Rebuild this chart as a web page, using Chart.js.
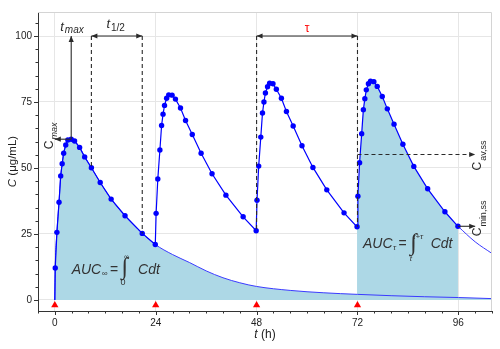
<!DOCTYPE html>
<html>
<head>
<meta charset="utf-8">
<script src="https://cdn.jsdelivr.net/npm/chart.js@4.4.1/dist/chart.umd.min.js"></script>
<style>
  html, body { margin: 0; padding: 0; background: #fff; }
  #wrap { width: 500px; height: 349px; }
</style>
</head>
<body>
<div id="wrap"><canvas id="pkChart" width="500" height="349"></canvas></div>
<script>
// dosing times (h) and sampling times after each dose (h)
var doseTimes = [0, 24, 48, 72];
var sampleOffsets = [0.1, 0.5, 1, 1.4, 1.75, 2.1, 2.6, 3.1, 3.9, 4.7, 5.9, 7.1, 8.7, 10.8, 13.4, 16.7, 20.8, 23.9];

// measured plasma concentration (µg/mL) after each dose
var dose1 = [12.1, 25.6, 37.0, 47.0, 51.6, 55.6, 58.7, 60.6, 60.9, 60.2, 57.8, 54.2, 50.1, 44.5, 38.2, 31.9, 25.2, 21.0];
var dose2 = [32.8, 45.8, 56.8, 66.1, 70.4, 73.7, 76.4, 77.7, 77.6, 76.1, 72.7, 68.0, 62.7, 55.6, 47.8, 39.7, 31.5, 26.2];
var dose3 = [37.8, 50.7, 61.7, 70.8, 75.0, 78.4, 80.8, 82.1, 81.9, 79.8, 76.4, 71.4, 65.9, 58.4, 50.2, 41.7, 33.0, 27.7];
var dose4 = [39.3, 52.0, 63.0, 72.1, 76.2, 79.6, 81.9, 82.9, 82.7, 80.9, 77.1, 72.4, 66.6, 59.0, 50.6, 42.1, 33.4, 27.9];
var doses = [dose1, dose2, dose3, dose4];

// single dose, elimination after 24 h
var singleTailTimes = [24, 28, 32, 36, 40, 44, 48, 56, 64, 72, 80, 88, 96, 104];
var singleTailConc = [21.0, 17.2, 14.2, 11.0, 8.4, 6.5, 5.1, 3.6, 2.7, 2.1, 1.6, 1.2, 0.9, 0.5];

// last dose, elimination after 96 h
var lastTailTimes = [95.9, 100, 104];
var lastTailConc = [27.9, 22.0, 17.6];

var xTicks = [0, 24, 48, 72, 96];
var yTicks = [0, 25, 50, 75, 100];
var xMinorStep = 4, yMinorStep = 5;

var FONT = '"Liberation Sans", Arial, sans-serif';
var INK = '#2a2a2a';

function pts(xs, ys) {
  return xs.map(function (x, i) { return { x: x, y: ys[i] }; });
}

var multiDose = [{ x: 0, y: 0 }];
doses.forEach(function (conc, d) {
  sampleOffsets.forEach(function (o, i) {
    multiDose.push({ x: doseTimes[d] + o, y: conc[i] });
  });
});

var singleDose = [{ x: 0, y: 0 }].concat(pts(sampleOffsets, dose1)).concat(pts(singleTailTimes, singleTailConc).slice(1));
var steadyInterval = [{ x: doseTimes[3] - 0.1, y: dose3[dose3.length - 1] }].concat(
  sampleOffsets.map(function (o, i) { return { x: doseTimes[3] + o, y: dose4[i] }; }));
var doseMarks = doseTimes.map(function (t) { return { x: t, y: -2 }; });

function arrowHead(ctx, x, y, ang) {
  ctx.save();
  ctx.translate(x, y);
  ctx.rotate(ang);
  ctx.beginPath();
  ctx.moveTo(0, 0);
  ctx.lineTo(-6, -2.6);
  ctx.lineTo(-6, 2.6);
  ctx.closePath();
  ctx.fill();
  ctx.restore();
}

function segment(ctx, x1, y1, x2, y2, dashed, headStart, headEnd) {
  ctx.save();
  ctx.setLineDash(dashed ? [4, 3] : []);
  ctx.beginPath();
  ctx.moveTo(x1, y1);
  ctx.lineTo(x2, y2);
  ctx.stroke();
  ctx.restore();
  var ang = Math.atan2(y2 - y1, x2 - x1);
  if (headEnd) arrowHead(ctx, x2, y2, ang);
  if (headStart) arrowHead(ctx, x1, y1, ang + Math.PI);
}

// draws a run of text pieces, each with its own font and vertical shift
function rich(ctx, parts, x, y) {
  parts.forEach(function (p) {
    ctx.font = p.font;
    x += p.gap || 0;
    ctx.fillText(p.text, x, y + (p.dy || 0));
    x += ctx.measureText(p.text).width;
  });
  return x;
}

function richWidth(ctx, parts) {
  var w = 0;
  parts.forEach(function (p) { ctx.font = p.font; w += (p.gap || 0) + ctx.measureText(p.text).width; });
  return w;
}

function rotatedRich(ctx, parts, x, y) {
  ctx.save();
  ctx.translate(x, y);
  ctx.rotate(-Math.PI / 2);
  rich(ctx, parts, 0, 0);
  ctx.restore();
}

// integral sign sized so its ink runs from top to bottom
function integralSign(ctx, left, top, bottom) {
  var fam = '"Liberation Serif", serif';
  ctx.font = '20px ' + fam;
  var m = ctx.measureText('∫');
  var size = 20 * (bottom - top) / (m.actualBoundingBoxAscent + m.actualBoundingBoxDescent);
  ctx.font = size.toFixed(1) + 'px ' + fam;
  m = ctx.measureText('∫');
  ctx.fillText('∫', left + m.actualBoundingBoxLeft, top + m.actualBoundingBoxAscent);
}

var pkNotes = {
  id: 'pkNotes',
  afterDatasetsDraw: function (chart) {
    var ctx = chart.ctx, xs = chart.scales.x, ys = chart.scales.y;
    var X = function (v) { return xs.getPixelForValue(v); };
    var Y = function (v) { return ys.getPixelForValue(v); };
    var tMax = 3.9, cMax = 60.9;
    ctx.save();
    ctx.strokeStyle = INK;
    ctx.fillStyle = INK;
    ctx.lineWidth = 1.1;
    ctx.textBaseline = 'alphabetic';
    ctx.textAlign = 'left';

    // t max and C max
    segment(ctx, X(tMax), Y(cMax), X(tMax), Y(100), false, false, true);
    segment(ctx, X(tMax), Y(cMax), X(0), Y(cMax), false, false, true);
    rich(ctx, [{ text: 't', font: 'italic 13px ' + FONT }, { text: 'max', font: 'italic 10px ' + FONT, dy: 2, gap: 1 }], X(tMax) - 11, Y(100) - 5);
    rotatedRich(ctx, [{ text: 'C', font: '12px ' + FONT }, { text: 'max', font: 'italic 9px ' + FONT, dy: 4, gap: 1 }], X(tMax) - 18, Y(cMax) + 10);

    // half-life bracket
    var h1 = 8.7, h2 = 20.8;
    segment(ctx, X(h1), Y(100), X(h1), Y(50.1), true);
    segment(ctx, X(h2), Y(100), X(h2), Y(25.2), true);
    segment(ctx, X(h1), Y(100), X(h2), Y(100), false, true, true);
    rich(ctx, [{ text: 't', font: 'italic 13px ' + FONT }, { text: '1/2', font: '10px ' + FONT, dy: 3, gap: 1 }], X(h1) + 15, Y(100) - 8);

    // dosing interval bracket
    segment(ctx, X(48), Y(100), X(48), Y(dose2[dose2.length - 1]), true);
    segment(ctx, X(72), Y(100), X(72), Y(dose3[dose3.length - 1]), true);
    segment(ctx, X(48), Y(100), X(72), Y(100), false, true, true);
    ctx.save();
    ctx.fillStyle = '#ff0000';
    ctx.font = '12px ' + FONT;
    ctx.textAlign = 'center';
    ctx.fillText('τ', (X(48) + X(72)) / 2, Y(100) - 4);
    ctx.restore();

    // steady-state average and minimum
    var cAv = 55.1;
    segment(ctx, X(72), Y(cAv), X(100), Y(cAv), true, false, true);
    segment(ctx, X(95.9), Y(27.9), X(100), Y(27.9), false, false, true);
    rotatedRich(ctx, [{ text: 'C', font: '12px ' + FONT }, { text: 'av,ss', font: '9px ' + FONT, dy: 5, gap: 1 }], X(100) + 6, Y(cAv) + 16);
    rotatedRich(ctx, [{ text: 'C', font: '12px ' + FONT }, { text: 'min,ss', font: '9px ' + FONT, dy: 5, gap: 1 }], X(100) + 6, Y(27.9) + 10);

    // area under the curve formulas
    ctx.fillStyle = '#333';
    var ax = X(4), ay = Y(9.7);
    var ex = rich(ctx, [{ text: 'AUC', font: 'italic 14px ' + FONT }, { text: '∞', font: 'italic 8px ' + FONT, dy: 2, gap: 0.5 }, { text: '=', font: '14px ' + FONT, gap: 2.5 }], ax, ay);
    integralSign(ctx, ex + 1.5, ay - 17, ay + 8);
    ctx.font = '7px ' + FONT;
    ctx.fillText('∞', ex + 6, ay - 15);
    ctx.font = '9px ' + FONT;
    ctx.fillText('0', ex + 2.5, ay + 11);
    rich(ctx, [{ text: 'Cdt', font: 'italic 14px ' + FONT }], ex + 20, ay);

    var bx = X(73.3), by = Y(19.7);
    ex = rich(ctx, [{ text: 'AUC', font: 'italic 14px ' + FONT }, { text: 'τ', font: 'italic 8px ' + FONT, dy: 2, gap: 0.5 }, { text: '=', font: '14px ' + FONT, gap: 2.5 }], bx, by);
    integralSign(ctx, ex + 1.5, by - 15, by + 10);
    ctx.font = 'italic 8px ' + FONT;
    ctx.fillText('t+τ', ex + 6.5, by - 9);
    ctx.fillText('t', ex + 3, by + 13);
    rich(ctx, [{ text: 'Cdt', font: 'italic 14px ' + FONT }], ex + 24, by);

    ctx.restore();
  },
  afterDraw: function (chart) {
    var ctx = chart.ctx, a = chart.chartArea, xs = chart.scales.x, ys = chart.scales.y;
    ctx.save();
    // light frame on the open sides
    ctx.strokeStyle = '#d4d4d4';
    ctx.lineWidth = 1;
    ctx.beginPath();
    ctx.moveTo(a.left, a.top + 0.5);
    ctx.lineTo(a.right - 0.5, a.top + 0.5);
    ctx.lineTo(a.right - 0.5, a.bottom);
    ctx.stroke();

    // major and minor tick marks
    ctx.strokeStyle = '#333';
    ctx.beginPath();
    xs.ticks.forEach(function (tk) {
      var px = Math.round(xs.getPixelForValue(tk.value)) + 0.5;
      var len = xTicks.indexOf(tk.value) >= 0 ? 4 : 2.5;
      ctx.moveTo(px, a.bottom);
      ctx.lineTo(px, a.bottom + len);
    });
    ys.ticks.forEach(function (tk) {
      var py = Math.round(ys.getPixelForValue(tk.value)) + 0.5;
      var len = yTicks.indexOf(tk.value) >= 0 ? 4 : 2.5;
      ctx.moveTo(a.left, py);
      ctx.lineTo(a.left - len, py);
    });
    ctx.stroke();

    // axis titles
    ctx.fillStyle = '#222';
    ctx.textBaseline = 'alphabetic';
    var xt = [{ text: 't', font: 'italic 12px ' + FONT }, { text: ' (h)', font: '12px ' + FONT }];
    rich(ctx, xt, (a.left + a.right) / 2 - richWidth(ctx, xt) / 2, 338);
    var yt = [{ text: 'C', font: 'italic 11.5px ' + FONT }, { text: ' (μg/mL)', font: '11.5px ' + FONT }];
    rotatedRich(ctx, yt, 16, (a.top + a.bottom) / 2 + richWidth(ctx, yt) / 2);
    ctx.restore();
  }
};

// every minor step inside [from, to]
function stepTicks(from, to, step) {
  var out = [];
  for (var v = Math.ceil(from / step) * step; v <= to; v += step) out.push({ value: v });
  return out;
}

var chart = new Chart(document.getElementById('pkChart').getContext('2d'), {
  type: 'line',
  data: {
    datasets: [
      {
        // dosing events
        data: doseMarks,
        showLine: false,
        pointStyle: 'triangle',
        pointRadius: 4.2,
        pointBackgroundColor: '#ff0000',
        pointBorderWidth: 0,
        clip: false
      },
      {
        // repeated dosing profile
        data: multiDose,
        borderColor: '#0000ff',
        borderWidth: 1.2,
        pointRadius: function (c) { return c.raw && c.raw.y === 0 ? 0 : 2.7; },
        pointBackgroundColor: '#0000ff',
        pointBorderWidth: 0,
        fill: false,
        tension: 0
      },
      {
        data: pts(lastTailTimes, lastTailConc),
        borderColor: '#3a3aff',
        borderWidth: 1,
        pointRadius: 0,
        fill: false,
        cubicInterpolationMode: 'monotone'
      },
      {
        // single dose with its total area
        data: singleDose,
        borderColor: '#3a3aff',
        borderWidth: 1,
        pointRadius: 0,
        backgroundColor: '#add8e6',
        fill: 'origin',
        cubicInterpolationMode: 'monotone'
      },
      {
        // area over one steady-state interval
        data: steadyInterval,
        borderWidth: 0,
        borderColor: 'rgba(0,0,0,0)',
        pointRadius: 0,
        backgroundColor: '#add8e6',
        fill: 'origin',
        tension: 0
      }
    ]
  },
  options: {
    responsive: false,
    animation: false,
    layout: { padding: { top: 12, right: 8, left: 0, bottom: 0 } },
    plugins: { legend: { display: false }, tooltip: { enabled: false } },
    scales: {
      x: {
        type: 'linear',
        min: -4,
        max: 104,
        afterFit: function (s) { s.height = 38; },
        afterBuildTicks: function (s) { s.ticks = stepTicks(s.min, s.max, xMinorStep); },
        ticks: {
          autoSkip: false,
          maxRotation: 0,
          padding: 6,
          color: '#222',
          font: { size: 10, family: FONT },
          callback: function (v) { return xTicks.indexOf(v) >= 0 ? String(v) : ''; }
        },
        grid: {
          drawTicks: false,
          color: function (c) { return c.tick && xTicks.indexOf(c.tick.value) >= 0 ? '#e6e6e6' : 'rgba(0,0,0,0)'; }
        },
        border: { display: true, color: '#333', width: 1 }
      },
      y: {
        min: -4.2,
        max: 109.1,
        afterFit: function (s) { s.width = 38; },
        afterBuildTicks: function (s) { s.ticks = stepTicks(s.min, s.max, yMinorStep); },
        ticks: {
          autoSkip: false,
          padding: 6,
          color: '#222',
          font: { size: 10, family: FONT },
          callback: function (v) { return yTicks.indexOf(v) >= 0 ? String(v) : ''; }
        },
        grid: {
          drawTicks: false,
          color: function (c) { return c.tick && yTicks.indexOf(c.tick.value) >= 0 ? '#e6e6e6' : 'rgba(0,0,0,0)'; }
        },
        border: { display: true, color: '#333', width: 1 }
      }
    }
  },
  plugins: [pkNotes]
});
</script>
</body>
</html>
